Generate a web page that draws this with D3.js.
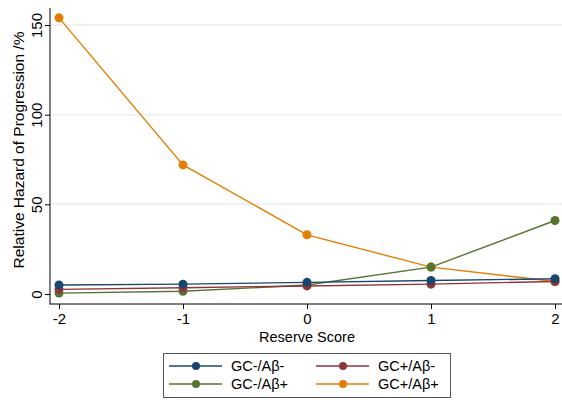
<!DOCTYPE html>
<html>
<head>
<meta charset="utf-8">
<script src="https://cdn.jsdelivr.net/npm/d3@7"></script>
<style>
  body { margin: 0; background: #fff; }
  text { font-family: Arial, "Liberation Sans", sans-serif; }
</style>
</head>
<body>
<div id="chart"></div>
<script>
const scores = [-2, -1, 0, 1, 2];
const yTicks = [0, 50, 100, 150];
const seriesNames = ['GC-/A\u03b2-', 'GC+/A\u03b2-', 'GC-/A\u03b2+', 'GC+/A\u03b2+'];
const gcNegAbNeg = [5, 5.5, 6.5, 7.5, 8.5];
const gcPosAbNeg = [2.6, 3.5, 4.5, 5.5, 7];
const gcNegAbPos = [0.5, 1.5, 5, 15, 41];
const gcPosAbPos = [154, 72, 33, 15, 7];
const colors = ['#1a476f', '#90353b', '#55752f', '#e37e00'];

const seriesValues = [gcNegAbNeg, gcPosAbNeg, gcNegAbPos, gcPosAbPos];
// orange first so the small lines stay on top
const drawOrder = [3, 2, 1, 0];

const width = 562;
const height = 400;

const svg = d3.select('#chart')
              .append('svg')
              .attr('width', width)
              .attr('height', height);

const xScale = d3.scaleLinear()
                 .domain([-2, 2])
                 .range([59, 555]);

const yScale = d3.scaleLinear()
                 .domain([0, 150])
                 .range([294, 25]);

// gridlines
svg.append('g')
   .selectAll('line')
   .data(yTicks.filter(d => d > 0))
   .enter()
   .append('line')
   .attr('x1', 51)
   .attr('x2', 562)
   .attr('y1', d => yScale(d))
   .attr('y2', d => yScale(d))
   .attr('stroke', '#eaeef1')
   .attr('stroke-width', 1.5);

// axes
const yAxis = d3.axisLeft(yScale).tickValues(yTicks).tickSize(5).tickPadding(4);
const yG = svg.append('g')
   .attr('transform', 'translate(50, 0)')
   .call(yAxis);
yG.select('.domain').attr('d', 'M0,8V304.5').attr('stroke', '#000');
yG.selectAll('.tick text')
  .attr('font-size', 15)
  .attr('x', 0)
  .attr('y', 0)
  .attr('dy', 0)
  .attr('transform', 'translate(-8,0) rotate(-90)')
  .attr('text-anchor', 'middle')
  .attr('fill', '#000');

const xAxis = d3.axisBottom(xScale).tickValues(scores).tickSize(5).tickPadding(4);
const xG = svg.append('g')
   .attr('transform', 'translate(0, 304)')
   .call(xAxis);
xG.select('.domain').attr('d', 'M50,0H562').attr('stroke', '#000');
xG.selectAll('.tick text')
  .attr('font-size', 15)
  .attr('fill', '#000')
  .text(d => d < 0 ? '-' + Math.abs(d) : d);

// lines
const line = d3.line()
               .x((d, i) => xScale(scores[i]))
               .y(d => yScale(d));

drawOrder.forEach(k => {
  svg.append('path')
     .datum(seriesValues[k])
     .attr('fill', 'none')
     .attr('stroke', colors[k])
     .attr('stroke-width', 1.4)
     .attr('d', line);
  svg.append('g')
     .selectAll('circle')
     .data(seriesValues[k])
     .enter()
     .append('circle')
     .attr('cx', (d, i) => xScale(scores[i]))
     .attr('cy', d => yScale(d))
     .attr('r', 4.5)
     .attr('fill', colors[k]);
});

// titles
svg.append('text')
   .attr('transform', 'translate(24, 150) rotate(-90)')
   .attr('text-anchor', 'middle')
   .attr('font-size', 15.5)
   .text('Relative Hazard of Progression /%');

svg.append('text')
   .attr('x', 307)
   .attr('y', 342)
   .attr('text-anchor', 'middle')
   .attr('font-size', 14.5)
   .text('Reserve Score');

// legend
svg.append('rect')
   .attr('x', 163.5)
   .attr('y', 353.5)
   .attr('width', 287)
   .attr('height', 44)
   .attr('fill', '#fff')
   .attr('stroke', '#555')
   .attr('stroke-width', 1);

const legendPos = [[169, 366], [316, 366], [169, 384], [316, 384]];
seriesNames.forEach((name, k) => {
  const [lx, ly] = legendPos[k];
  const g = svg.append('g');
  g.append('line')
   .attr('x1', lx).attr('x2', lx + 53)
   .attr('y1', ly).attr('y2', ly)
   .attr('stroke', colors[k])
   .attr('stroke-width', 1.4);
  g.append('circle')
   .attr('cx', lx + 27)
   .attr('cy', ly)
   .attr('r', 4)
   .attr('fill', colors[k]);
  g.append('text')
   .attr('x', lx + 62)
   .attr('y', ly + 5)
   .attr('font-size', 14.5)
   .text(name);
});
</script>
</body>
</html>
